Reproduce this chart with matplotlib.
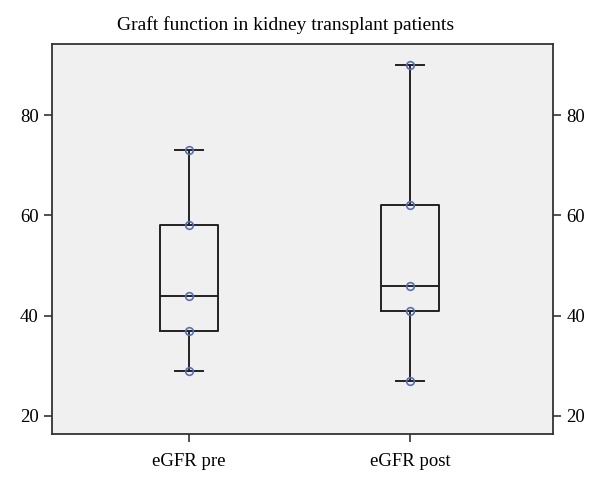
import numpy as np
import matplotlib.pyplot as plt

plt.rcParams['font.family'] = ['Liberation Serif', 'DejaVu Serif']

# Dane
labels = ['eGFR pre', 'eGFR post']
egfr_pre = [73, 58, 44, 37, 29]
egfr_post = [90, 62, 46, 41, 27]
groups = [egfr_pre, egfr_post]

fig = plt.figure(figsize=(6, 4.88), dpi=100)
ax = fig.add_axes([0.0867, 0.1107, 0.835, 0.799])
ax.set_facecolor('#f0f0f0')

pos = np.arange(1, len(groups) + 1)
line = dict(color='#222222', linewidth=1.4)
ax.boxplot(groups, positions=pos, whis=(0, 100), widths=0.26,
           boxprops=line, whiskerprops=line, capprops=line,
           medianprops=line, showfliers=False, manage_ticks=False)

for p, g in zip(pos, groups):
    ax.plot(np.full(len(g), p), g, 'o', ms=5.5, mfc='none', mec='#5a6fb0',
            mew=1.2, zorder=5)

ax.set_xlim(0.38, 2.647)
ax.set_ylim(16.4, 94.2)
ax.set_xticks(pos)
ax.set_xticklabels(labels)
ax.set_yticks([20, 40, 60, 80])
ax.tick_params(axis='both', labelsize=13.5, direction='out', length=6,
               width=1.2, color='#333333')
ax.tick_params(axis='y', right=True, labelright=True)
ax.tick_params(axis='x', pad=8)
for s in ax.spines.values():
    s.set_color('#333333')
    s.set_linewidth(1.3)

ax.set_title('Graft function in kidney transplant patients', fontsize=14,
             x=0.467, pad=10)

fig.savefig('out.png', dpi=100)
